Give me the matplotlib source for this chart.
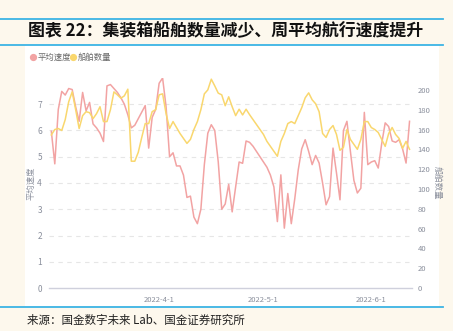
import numpy as np
import pandas as pd
import matplotlib
matplotlib.use("Agg")
import matplotlib.pyplot as plt
from matplotlib.lines import Line2D
from matplotlib.patches import Rectangle

plt.rcParams['font.family'] = ['Noto Sans CJK SC', 'DejaVu Sans']

title = "图表 22：集装箱船舶数量减少、周平均航行速度提升"
source = "来源：国金数字未来 Lab、国金证券研究所"
series_names = ["平均速度", "船舶数量"]
start_date = "2022-03-01"
tick_dates = ["2022-04-01", "2022-05-01", "2022-06-01"]
tick_labels = ["2022-4-1", "2022-5-1", "2022-6-1"]

speed = [5.97, 4.73, 6.8, 7.49, 7.35, 7.6, 7.56, 6.9, 6.35, 7.45,
         6.75, 7.07, 6.25, 6.1, 5.9, 5.58, 7.7, 7.75, 7.6, 7.45,
         7.25, 7.0, 6.6, 6.1, 6.2, 6.45, 6.7, 6.95, 5.33, 6.5,
         6.8, 7.8, 8.0, 6.9, 5.0, 5.15, 4.65, 4.65, 4.3, 3.45,
         3.5, 2.7, 2.45, 3.0, 4.7, 5.9, 6.22, 6.0, 4.8, 3.0,
         3.2, 3.95, 2.9, 3.85, 4.8, 4.75, 5.6, 5.55, 5.4, 5.2,
         5.0, 4.8, 4.6, 4.3, 3.85, 2.53, 4.31, 2.28, 3.6, 2.45,
         3.4, 4.5, 5.3, 5.65, 5.2, 4.7, 5.05, 4.76, 4.0, 3.17,
         3.48, 5.33, 4.38, 3.36, 6.0, 6.35, 5.2, 4.1, 3.62, 3.8,
         6.69, 4.7, 4.8, 4.85, 4.57, 5.5, 6.29, 6.15, 5.6, 5.55,
         5.65, 5.3, 4.76, 6.35]

ships = [154.5, 160, 161, 159, 170, 188, 198, 180, 161, 174,
         178, 177, 171, 176, 183, 168, 168, 180, 198, 195,
         191.6, 194, 200.7, 128, 128, 137, 152, 166, 166, 178,
         180, 195, 196, 176, 161, 168, 162, 156, 151, 146,
         150, 160, 168, 180, 196, 200, 210.8, 204, 196.7, 195,
         184, 193, 183, 174, 180.5, 174.7, 180.5, 175, 170, 165,
         160, 155, 148, 143, 138, 133, 148, 156, 166, 168,
         166, 174, 182, 192, 197, 190, 186, 178, 156, 152,
         160, 164, 155, 139, 142, 160, 150, 145, 140, 150,
         168, 168, 162, 160, 157, 150, 143, 156, 162, 155,
         151, 141, 148, 140]

dates = pd.date_range(start_date, periods=len(speed), freq="D")

W, H = 453, 331
fig = plt.figure(figsize=(W / 100, H / 100), dpi=100)
bg = '#fdf8ed'
fig.patch.set_facecolor(bg)

# white panel
fig.add_artist(Rectangle((25 / W, 1 - 306 / H), (439 - 25) / W, (306 - 45) / H,
                         transform=fig.transFigure, facecolor='white',
                         edgecolor='none', zorder=-5))
blue = '#3cb4e5'
for yy in (19, 44.5, 307):
    fig.add_artist(Line2D([0, 443 / W], [1 - yy / H, 1 - yy / H], transform=fig.transFigure,
                          color=blue, lw=1.3, zorder=-4))

fig.text(28 / W, 1 - 31 / H, title, fontsize=12.2, fontweight='bold', color='#111111',
         va='center', ha='left')
fig.text(27 / W, 1 - 320 / H, source, fontsize=8.3, color='#222222', va='center', ha='left')

left, right, top, bottom = 49, 412, 78, 288
ax = fig.add_axes([left / W, 1 - bottom / H, (right - left) / W, (bottom - top) / H], zorder=2)
ax.set_facecolor('none')
ax2 = ax.twinx()

red = '#f2a3a3'
yellow = '#f9d76e'
ax.plot(dates, speed, color=red, lw=1.1, zorder=3, solid_joinstyle='round')
ax2.plot(dates, ships, color=yellow, lw=1.1, zorder=2, solid_joinstyle='round')

ax.set_ylim(0, 8.0)
ax2.set_ylim(0, 212)
ax.set_yticks(range(0, 8))
ax2.set_yticks(range(0, 201, 20))
ax.set_xlim(pd.Timestamp(start_date) - pd.Timedelta(hours=16), dates[-1] + pd.Timedelta(hours=17))
ax.set_xticks(pd.to_datetime(tick_dates))
ax.set_xticklabels(tick_labels)

for y in range(1, 8):
    ax.axhline(y, color='#e6e6e6', lw=0.8, ls=(0, (4, 4)), zorder=1)

for a in (ax, ax2):
    for s in a.spines.values():
        s.set_visible(False)
ax.spines['bottom'].set_visible(True)
ax.spines['bottom'].set_color('#cfd0dc')
ax.spines['bottom'].set_linewidth(1.0)

ax.tick_params(axis='y', length=0, labelsize=6, colors='#8a8f9c', pad=5)
ax2.tick_params(axis='y', length=0, labelsize=5.5, colors='#8a8f9c', pad=4)
ax.tick_params(axis='x', length=0, labelsize=5.5, colors='#8a8f9c', pad=6)

ax.set_ylabel(series_names[0], fontsize=6, color='#8a8f9c', labelpad=1)
ax2.set_ylabel(series_names[1], fontsize=6, color='#8a8f9c', rotation=-90, labelpad=8)

# legend
fig.add_artist(Line2D([32.7 / W], [1 - 57 / H], marker='o', markersize=4.2, color=red,
                      transform=fig.transFigure, lw=0))
fig.text(37.5 / W, 1 - 57 / H, series_names[0], fontsize=6, color='#666666', va='center', ha='left')
fig.add_artist(Line2D([72.7 / W], [1 - 57 / H], marker='o', markersize=4.2, color=yellow,
                      transform=fig.transFigure, lw=0))
fig.text(77.5 / W, 1 - 57 / H, series_names[1], fontsize=6, color='#666666', va='center', ha='left')

fig.savefig("out.png", dpi=100, facecolor=bg)
